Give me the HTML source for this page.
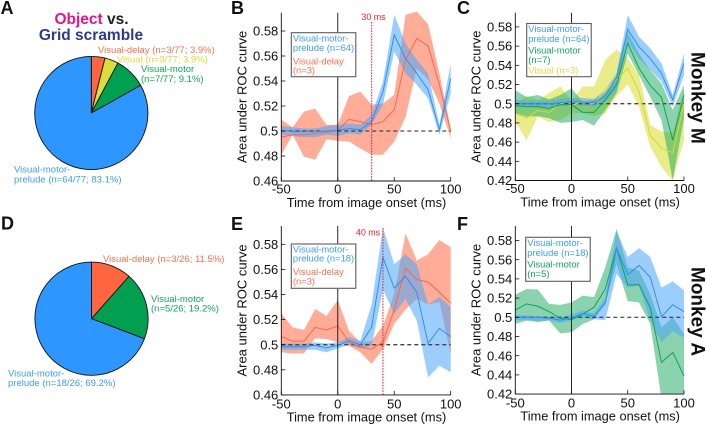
<!DOCTYPE html>
<html><head><meta charset="utf-8"><title>ROC figure</title>
<style>
html,body{margin:0;padding:0;background:#fff;width:706px;height:424px;overflow:hidden}
svg{display:block;font-family:"Liberation Sans",Arial,sans-serif}
</style></head>
<body>
<svg id="fig" width="706" height="424" viewBox="0 0 706 424" xmlns="http://www.w3.org/2000/svg">
<g font-weight="700" font-size="18" fill="#111">
<text x="0.5" y="14">A</text>
<text x="231" y="14">B</text>
<text x="457" y="14">C</text>
<text x="1" y="229.5">D</text>
<text x="231" y="230">E</text>
<text x="457" y="230">F</text>
</g>
<g font-weight="700" font-size="15.5" text-anchor="middle">
<text x="91.5" y="24"><tspan fill="#e6128c">Object</tspan><tspan fill="#222"> vs.</tspan></text>
<text x="91" y="40" fill="#2e3a8c">Grid scramble</text>
</g>
<g id="pies"></g>
<g font-size="9.5">
<text x="98" y="53" fill="#f9714f">Visual-delay (n=3/77; 3.9%)</text>
<text x="117" y="62.3" fill="#d9dc3e">Visual (n=3/77; 3.9%)</text>
<text x="141" y="72" fill="#0fa558">Visual-motor</text>
<text x="141" y="82" fill="#0fa558">(n=7/77; 9.1%)</text>
<text x="14" y="172.5" fill="#3d9cf5">Visual-motor-</text>
<text x="14" y="182.7" fill="#3d9cf5">prelude (n=64/77; 83.1%)</text>
</g>
<g font-size="9.5">
<text x="103" y="262" fill="#f9714f">Visual-delay (n=3/26; 11.5%)</text>
<text x="151" y="302" fill="#0fa558">Visual-motor</text>
<text x="151" y="311.5" fill="#0fa558">(n=5/26; 19.2%)</text>
<text x="8" y="376.5" fill="#3d9cf5">Visual-motor-</text>
<text x="8" y="386" fill="#3d9cf5">prelude (n=18/26; 69.2%)</text>
</g>
<g id="panels"></g>
<g font-weight="700" font-size="19" fill="#111">
<text transform="translate(691.5,52) rotate(90)">Monkey M</text>
<text transform="translate(691.5,267) rotate(90)">Monkey A</text>
</g>
</svg>
<script>
const NS = 'http://www.w3.org/2000/svg';
const timePoints = [-50,-40,-30,-20,-10,0,10,20,30,40,50,60,70,80,90,100];
const xTicks = [-50,0,50,100];

const pieACounts = [3,3,7,64];
const pieACategories = ['visual-delay','visual','visual-motor','visual-motor-prelude'];
const pieAColors = ['#ff6640','#dbdd3a','#00a050','#2e96ff'];
const pieDCounts = [3,5,18];
const pieDCategories = ['visual-delay','visual-motor','visual-motor-prelude'];
const pieDColors = ['#ff6640','#00a050','#2e96ff'];

const bTicks = [0.46,0.48,0.5,0.52,0.54,0.56,0.58];
const bBlueMean = [.5005,.4995,.4995,.4995,.5,.5005,.502,.501,.5075,.5315,.5768,.558,.546,.533,.501,.542];
const bBlueUp = [.504,.503,.502,.502,.504,.505,.506,.505,.513,.5395,.593,.57,.557,.546,.505,.554];
const bBlueLo = [.497,.496,.495,.495,.497,.496,.498,.497,.505,.521,.5635,.546,.537,.526,.497,.53];
const bRedMean = [.495,.497,.497,.498,.499,.5005,.5093,.5075,.505,.5075,.517,.557,.574,.568,.537,.5];
const bRedUp = [.509,.503,.5155,.518,.505,.505,.528,.5315,.521,.522,.529,.593,.5955,.5855,.546,.502];
const bRedLo = [.481,.497,.4795,.477,.4935,.492,.4915,.486,.481,.481,.4915,.511,.55,.541,.522,.494];

const cTicks = [0.42,0.44,0.46,0.48,0.5,0.52,0.54,0.56,0.58];
const cBlueMean = [.5,.5,.5,.5,.501,.502,.502,.501,.508,.527,.5775,.559,.547,.5316,.504,.542];
const cBlueUp = [.504,.503,.503,.503,.505,.506,.506,.505,.514,.5316,.5924,.5698,.5576,.542,.509,.5524];
const cBlueLo = [.497,.496,.496,.496,.497,.498,.498,.497,.502,.514,.5646,.547,.535,.523,.497,.53];
const cGreenMean = [.498,.497,.497,.495,.499,.499,.491,.491,.504,.52,.563,.537,.519,.5066,.462,.509];
const cGreenUp = [.514,.507,.509,.5045,.509,.516,.502,.504,.511,.528,.575,.552,.535,.521,.4934,.5195];
const cGreenLo = [.49,.4865,.487,.485,.48,.481,.483,.477,.493,.511,.552,.53,.507,.483,.4205,.485];
const cYellowMean = [.49,.485,.493,.491,.5,.498,.503,.5,.513,.525,.537,.5125,.467,.4535,.449,.5];
const cYellowUp = [.5,.508,.504,.511,.518,.503,.518,.518,.5455,.5566,.547,.53,.478,.471,.47,.515];
const cYellowLo = [.481,.462,.4865,.481,.483,.49,.49,.487,.49,.508,.52,.497,.455,.434,.42,.462];

const eTicks = [0.46,0.48,0.5,0.52,0.54,0.56,0.58];
const eBlueMean = [.4985,.4985,.4985,.4995,.4975,.4995,.503,.5,.514,.5696,.545,.5545,.5417,.501,.513,.5064];
const eBlueUp = [.501,.501,.501,.502,.501,.502,.506,.503,.532,.5935,.564,.572,.564,.532,.538,.53];
const eBlueLo = [.496,.496,.496,.496,.494,.497,.5,.497,.499,.544,.5245,.5364,.519,.474,.4833,.478];
const eRedMean = [.5066,.5027,.5027,.5138,.5117,.515,.502,.498,.4965,.502,.528,.561,.552,.55,.5417,.533];
const eRedUp = [.525,.5138,.5117,.5284,.523,.5356,.511,.502,.503,.515,.5404,.5887,.567,.5722,.5834,.5776];
const eRedLo = [.494,.493,.493,.505,.5045,.502,.499,.494,.4846,.4965,.5165,.528,.5364,.532,.534,.4925];

const fTicks = [0.42,0.44,0.46,0.48,0.5,0.52,0.54,0.56,0.58];
const fBlueMean = [.5,.5,.5,.499,.497,.499,.504,.501,.515,.572,.5444,.554,.5417,.5007,.513,.506];
const fBlueUp = [.502,.502,.501,.501,.5,.503,.507,.504,.52,.59,.563,.572,.563,.531,.5375,.528];
const fBlueLo = [.497,.497,.496,.497,.494,.497,.5,.498,.497,.545,.531,.533,.4965,.474,.4854,.479];
const fGreenMean = [.5076,.514,.5115,.506,.499,.4976,.5035,.5104,.5295,.572,.5337,.534,.51,.453,.4635,.439];
const fGreenUp = [.5236,.5295,.529,.514,.513,.5156,.5226,.521,.552,.592,.552,.5486,.524,.4896,.5,.4826];
const fGreenLo = [.493,.4965,.495,.4965,.4833,.4844,.493,.498,.514,.5555,.5167,.5156,.493,.415,.41,.4];

const BLUE = {line:'#2f90ee', fill:'#4ba6fb', op:.55};
const RED = {line:'#f9684a', fill:'#ff6a45', op:.55};
const GREEN = {line:'#0ea458', fill:'#17a860', op:.5};
const YELLOW = {line:'#d4d82e', fill:'#dcdf3c', op:.6};

function mk(tag, parent, attrs){
  const el = document.createElementNS(NS, tag);
  for (const k in attrs) el.setAttribute(k, attrs[k]);
  parent.appendChild(el);
  return el;
}

function drawPie(parent, name, cx, cy, r, counts, cats, colors){
  const g = mk('g', parent, {});
  
  
  const total = counts.reduce((a,b)=>a+b,0);
  let acc = 0;
  counts.forEach((c,i)=>{
    const a0 = acc/total*2*Math.PI; acc += c;
    const a1 = acc/total*2*Math.PI;
    const large = a1-a0 > Math.PI ? 1 : 0;
    const d = `M${cx},${cy}L${cx+r*Math.sin(a0)},${cy-r*Math.cos(a0)}A${r},${r} 0 ${large} 1 ${cx+r*Math.sin(a1)},${cy-r*Math.cos(a1)}Z`;
    const p = mk('path', g, {d:d, fill:colors[i], stroke:'#111', 'stroke-width':.9, 'stroke-linejoin':'round'});
    
    
  });
}

let clipId = 0;
function drawPanel(cfg){
  const root = document.getElementById('panels');
  const g = mk('g', root, {});
  
  
  const X0 = cfg.x0, X1 = cfg.x1;
  const xScale = v => X0 + (v+50)/150*(X1-X0);
  const yScale = v => cfg.yBase + (v-cfg.vBase)/0.02*(-cfg.yPer02);
  const top = cfg.top, bottom = yScale(cfg.ticks[0]);

  const cid = 'clip' + (clipId++);
  const cp = mk('clipPath', g, {id:cid});
  mk('rect', cp, {x:X0, y:top-8, width:X1-X0+1, height:bottom-top+8});
  const plot = mk('g', g, {'clip-path':`url(#${cid})`});
  
  

  cfg.series.forEach(s=>{
    let d = '';
    timePoints.forEach((t,i)=>{ d += (i?'L':'M') + xScale(t) + ',' + yScale(s.up[i]); });
    for (let i = timePoints.length-1; i >= 0; i--) d += 'L' + xScale(timePoints[i]) + ',' + yScale(s.lo[i]);
    const band = mk('path', plot, {d:d+'Z', fill:s.style.fill, 'fill-opacity':s.style.op, stroke:'none'});
    
    
  });
  const dash = mk('line', plot, {x1:X0, x2:X1, y1:yScale(0.5), y2:yScale(0.5), stroke:cfg.dashColor, 'stroke-width':cfg.dashWidth, 'stroke-dasharray':'4 3'});
  
  
  cfg.series.forEach(s=>{
    const pts = timePoints.map((t,i)=>xScale(t)+','+yScale(s.mean[i])).join(' ');
    const l = mk('polyline', plot, {points:pts, fill:'none', stroke:s.style.line, 'stroke-width':1});
    
    
  });

  const onset = mk('line', g, {x1:xScale(0), x2:xScale(0), y1:top, y2:bottom, stroke:'#111', 'stroke-width':.9});
  
  

  if (cfg.marker !== undefined){
    const m = mk('line', g, {x1:xScale(cfg.marker), x2:xScale(cfg.marker), y1:cfg.markerTop, y2:bottom, stroke:'#f01c2a', 'stroke-width':1, 'stroke-dasharray':'1.6 1.2'});
    
    
    const mt = mk('text', g, {x:cfg.markerTextX, y:cfg.markerTextY, 'font-size':8.9, fill:'#f01c2a', 'text-anchor':'middle'});
    mt.textContent = cfg.marker + ' ms';
    
    
  }

  const axis = mk('path', g, {d:`M${X0},${top}V${bottom}H${X1}`, fill:'none', stroke:'#111', 'stroke-width':.9});
  
  

  cfg.ticks.forEach(v=>{
    const y = yScale(v);
    const t = mk('line', g, {x1:X0, x2:X0+4, y1:y, y2:y, stroke:'#111', 'stroke-width':.8});
    
    
    const lab = mk('text', g, {x:X0-3, y:y+4.6, 'font-size':13, 'text-anchor':'end', fill:'#111'});
    lab.textContent = String(v);
    
    
  });
  xTicks.forEach(v=>{
    const x = xScale(v);
    const t = mk('line', g, {x1:x, x2:x, y1:bottom, y2:bottom-4, stroke:'#111', 'stroke-width':.8});
    
    
    const lab = mk('text', g, {x:x, y:bottom+cfg.tickDy, 'font-size':13, 'text-anchor':'middle', fill:'#111'});
    lab.textContent = String(v);
    
    
  });
  const xt = mk('text', g, {x:(X0+X1)/2+0.5, y:bottom+cfg.titleDy, 'font-size':12.8, 'text-anchor':'middle', fill:'#111'});
  xt.textContent = 'Time from image onset (ms)';
  
  
  const yc = (top+bottom)/2;
  const yt = mk('text', g, {transform:`translate(${cfg.yTitleX},${yc}) rotate(-90)`, 'font-size':13, 'text-anchor':'middle', fill:'#111'});
  yt.textContent = 'Area under ROC curve';
  
  

  const lg = mk('g', g, {});
  
  
  const box = mk('rect', lg, {x:cfg.legend.x, y:cfg.legend.y, width:cfg.legend.w, height:cfg.legend.h, fill:'#fff', stroke:'#5c5c5c', 'stroke-width':1.1});
  
  
  cfg.legend.rows.forEach(r=>{
    const t = mk('text', lg, {x:cfg.legend.x+1.6, y:r[2], 'font-size':9.4, fill:r[1]});
    t.textContent = r[0];
    
    
  });
}

const pies = document.getElementById('pies');
drawPie(pies, 'pie-a', 91.3, 113, 56.6, pieACounts, pieACategories, pieAColors);
drawPie(pies, 'pie-d', 91.5, 318.7, 56.6, pieDCounts, pieDCategories, pieDColors);

const cBlue='#3d9cf5', cRed='#f9714f', cGreen='#0fa558', cYel='#d9dc3e';

drawPanel({id:'b', x0:281.3, x1:450.7, top:12.7, ticks:bTicks, yBase:131, vBase:0.5, yPer02:25, yTitleX:246.5,
  tickDy:12.5, titleDy:26, dashColor:'#222', dashWidth:1,
  marker:30, markerTop:22, markerTextX:373.5, markerTextY:20,
  series:[{name:'visual-delay',style:RED,mean:bRedMean,up:bRedUp,lo:bRedLo},{name:'visual-motor-prelude',style:BLUE,mean:bBlueMean,up:bBlueUp,lo:bBlueLo}],
  legend:{x:291.3,y:32.7,w:64.5,h:44,rows:[['Visual-motor-',cBlue,41.5],['prelude (n=64)',cBlue,51],['Visual-delay',cRed,64.3],['(n=3)',cRed,73.5]]}});
drawPanel({id:'c', x0:515.3, x1:684, top:12.7, ticks:cTicks, yBase:103.7, vBase:0.5, yPer02:19.2, yTitleX:480.5,
  tickDy:12.5, titleDy:26, dashColor:'#444', dashWidth:1.3,
  series:[{name:'visual',style:YELLOW,mean:cYellowMean,up:cYellowUp,lo:cYellowLo},{name:'visual-motor',style:GREEN,mean:cGreenMean,up:cGreenUp,lo:cGreenLo},{name:'visual-motor-prelude',style:BLUE,mean:cBlueMean,up:cBlueUp,lo:cBlueLo}],
  legend:{x:526.7,y:23.5,w:64.5,h:53.2,rows:[['Visual-motor-',cBlue,32],['prelude (n=64)',cBlue,42],['Visual-motor',cGreen,53.5],['(n=7)',cGreen,63],['Visual (n=3)',cYel,73.5]]}});
drawPanel({id:'e', x0:281.3, x1:450.7, top:226, ticks:eTicks, yBase:344.7, vBase:0.5, yPer02:25.1, yTitleX:246.5,
  tickDy:13.5, titleDy:26.5, dashColor:'#444', dashWidth:1.3,
  marker:40, markerTop:228, markerTextX:368, markerTextY:235.5,
  series:[{name:'visual-delay',style:RED,mean:eRedMean,up:eRedUp,lo:eRedLo},{name:'visual-motor-prelude',style:BLUE,mean:eBlueMean,up:eBlueUp,lo:eBlueLo}],
  legend:{x:291.3,y:244,w:64.5,h:44.3,rows:[['Visual-motor-',cBlue,252.5],['prelude (n=18)',cBlue,261.7],['Visual-delay',cRed,275],['(n=3)',cRed,284.7]]}});
drawPanel({id:'f', x0:515.3, x1:684, top:226, ticks:fTicks, yBase:317.3, vBase:0.5, yPer02:19.2, yTitleX:480.5,
  tickDy:13.5, titleDy:26.5, dashColor:'#222', dashWidth:1,
  series:[{name:'visual-motor',style:GREEN,mean:fGreenMean,up:fGreenUp,lo:fGreenLo},{name:'visual-motor-prelude',style:BLUE,mean:fBlueMean,up:fBlueUp,lo:fBlueLo}],
  legend:{x:525.7,y:237.3,w:64.5,h:44,rows:[['Visual-motor-',cBlue,246],['prelude (n=18)',cBlue,256],['Visual-motor',cGreen,267.5],['(n=5)',cGreen,277]]}});
</script>
</body></html>
